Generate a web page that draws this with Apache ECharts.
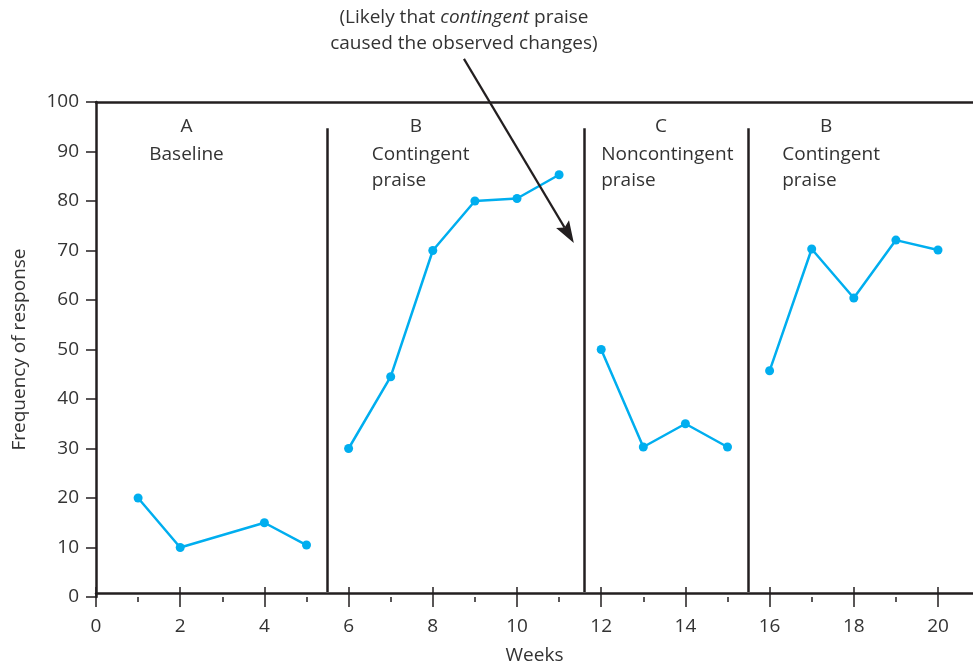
<!DOCTYPE html>
<html>
<head>
<meta charset="utf-8">
<script src="https://cdn.jsdelivr.net/npm/echarts@6/dist/echarts.min.js"></script>
<style>
html,body{margin:0;padding:0;background:#fff;}
#chart{width:973px;height:670px;}
</style>
</head>
<body>
<div id="chart"></div>
<script>
// ---- data ----
const weeksA = [1, 2, 4, 5];
const valuesA = [20, 10, 15, 10.5];
const weeksB = [6, 7, 8, 9, 10, 11];
const valuesB = [30, 44.5, 70, 80, 80.5, 85.3];
const weeksC = [12, 13, 14, 15];
const valuesC = [50, 30.3, 35, 30.3];
const weeksD = [16, 17, 18, 19, 20];
const valuesD = [45.7, 70.3, 60.4, 72.1, 70.1];
const phaseBoundaries = [5.5, 11.6, 15.5];
const phaseLetters = ['A', 'B', 'C', 'B'];
const phaseNames = [['Baseline'], ['Contingent', 'praise'], ['Noncontingent', 'praise'], ['Contingent', 'praise']];
const yTicks = [0, 10, 20, 30, 40, 50, 60, 70, 80, 90, 100];
const xTicks = [0, 2, 4, 6, 8, 10, 12, 14, 16, 18, 20];
const annotationLines = ['(Likely that {i|contingent} praise', 'caused the observed changes)'];

// ---- layout / style ----
const FONT = '"Open Sans", "Noto Sans", sans-serif';
const TEXT = '#333333';
const INK = '#231f20';
const BLUE = '#00aeef';
const FS = 19;
const letterX = [2.15, 7.6, 13.42, 17.34];
const nameX = [2.15, 6.55, 12.0, 16.3];
const nameAlign = ['center', 'left', 'left', 'left'];
const arrowFrom = [8.74, 108.7];
const arrowTo = [11.35, 71.5];

function pairs(xs, ys) { return xs.map((x, i) => [x, ys[i]]); }

const chart = echarts.init(document.getElementById('chart'));

function phaseSeries(xs, ys) {
  return {
    type: 'line', xAxisIndex: 0, yAxisIndex: 0,
    data: pairs(xs, ys),
    symbol: 'circle', symbolSize: 9,
    itemStyle: { color: BLUE },
    lineStyle: { color: BLUE, width: 2.5 },
    animation: false, z: 5
  };
}

const boundaryLines = phaseBoundaries.map(b => [{ coord: [b, 1] }, { coord: [b, 94.7] }]);

const option = {
  backgroundColor: '#ffffff',
  animation: false,
  grid: [
    { left: 96, right: 35, top: 102, bottom: 73 },
    { left: 96, right: 0, top: 102, bottom: 73 }
  ],
  xAxis: [
    {
      type: 'value', gridIndex: 0, position: 'bottom', min: 0, max: 20, interval: 2,
      axisLine: { show: false },
      axisTick: { show: true, length: 10, lineStyle: { color: INK, width: 1.5 } },
      minorTick: { show: true, splitNumber: 2, length: 5, lineStyle: { color: INK, width: 1.5 } },
      axisLabel: { show: true, margin: 20, fontSize: FS, color: TEXT, fontFamily: FONT,
        formatter: v => xTicks.includes(v) ? String(v) : '' },
      splitLine: { show: false }, minorSplitLine: { show: false }
    },
    {
      type: 'value', gridIndex: 0, position: 'bottom', min: 0, max: 20, interval: 2,
      axisLine: { show: false },
      axisTick: { show: true, inside: true, length: 10, lineStyle: { color: INK, width: 1.5 } },
      axisLabel: { show: false }, splitLine: { show: false }
    },
    {
      type: 'value', gridIndex: 1, position: 'bottom', min: 0, max: 20.83,
      axisLine: { show: true, lineStyle: { color: INK, width: 2.5 } },
      axisTick: { show: false }, axisLabel: { show: false }, splitLine: { show: false },
      name: 'Weeks', nameLocation: 'middle', nameGap: 53,
      nameTextStyle: { fontSize: FS, color: TEXT, fontFamily: FONT }
    },
    {
      type: 'value', gridIndex: 1, position: 'top', min: 0, max: 20.83,
      axisLine: { show: true, lineStyle: { color: INK, width: 2.5 } },
      axisTick: { show: false }, axisLabel: { show: false }, splitLine: { show: false }
    }
  ],
  yAxis: [
    {
      type: 'value', gridIndex: 0, min: 0, max: 100, interval: 10,
      axisLine: { show: true, lineStyle: { color: INK, width: 2.5 } },
      axisTick: { show: true, length: 10, lineStyle: { color: INK, width: 1.5 } },
      axisLabel: { margin: 17, fontSize: FS, color: TEXT, fontFamily: FONT,
        formatter: v => yTicks.includes(v) ? String(v) : '' },
      splitLine: { show: false },
      name: 'Frequency of response', nameLocation: 'middle', nameGap: 67,
      nameTextStyle: { fontSize: FS, color: TEXT, fontFamily: FONT }
    },
    {
      type: 'value', gridIndex: 1, min: 0, max: 100, show: false
    }
  ],
  series: [
    phaseSeries(weeksA, valuesA),
    phaseSeries(weeksB, valuesB),
    phaseSeries(weeksC, valuesC),
    phaseSeries(weeksD, valuesD),
    {
      type: 'line', xAxisIndex: 0, yAxisIndex: 0, data: [], clip: false, silent: true,
      markLine: {
        silent: true, animation: false, symbol: ['none', 'none'],
        label: { show: false },
        lineStyle: { color: INK, width: 2.5, type: 'solid' },
        emphasis: { disabled: true },
        data: boundaryLines
      }
    }
  ]
};
chart.setOption(option);

// text labels placed at data coordinates
const graphics = [];
phaseLetters.forEach((L, i) => {
  const p = chart.convertToPixel({ gridIndex: 0 }, [letterX[i], 95]);
  graphics.push({
    type: 'text', x: p[0], y: p[1],
    style: { text: L, fill: TEXT, font: FS + 'px ' + FONT, textAlign: 'center', textVerticalAlign: 'middle' }
  });
  const q = chart.convertToPixel({ gridIndex: 0 }, [nameX[i], 89.4]);
  const n = phaseNames[i].length;
  graphics.push({
    type: 'text', x: q[0], y: q[1] + (n - 1) * 13,
    style: { text: phaseNames[i].join('\n'), fill: TEXT, font: FS + 'px ' + FONT,
      textAlign: nameAlign[i], textVerticalAlign: 'middle', lineHeight: 26 }
  });
});

// annotation arrow (from data coordinates above the plot)
const s = chart.convertToPixel({ gridIndex: 0 }, arrowFrom);
const e = chart.convertToPixel({ gridIndex: 0 }, arrowTo);
const dx = e[0] - s[0], dy = e[1] - s[1];
const L = Math.hypot(dx, dy);
const ux = dx / L, uy = dy / L, nx = -uy, ny = ux;
const headLen = 22, headW = 7.5, notch = 18;
const bx = e[0] - ux * headLen, by = e[1] - uy * headLen;
const mx = e[0] - ux * notch, my = e[1] - uy * notch;
graphics.push({
  type: 'line', shape: { x1: s[0], y1: s[1], x2: mx, y2: my },
  style: { stroke: INK, lineWidth: 2.2 }, z: 20
});
graphics.push({
  type: 'polygon',
  shape: { points: [[e[0], e[1]], [bx + nx * headW, by + ny * headW], [mx, my], [bx - nx * headW, by - ny * headW]] },
  style: { fill: INK }, z: 20
});

graphics.push({
  type: 'text', x: s[0], y: 31,
  style: {
    text: annotationLines.join('\n'), fill: TEXT, font: FS + 'px ' + FONT,
    textAlign: 'center', textVerticalAlign: 'middle', lineHeight: 26,
    rich: { i: { fontStyle: 'italic', fontSize: FS, fontFamily: FONT, fill: TEXT, lineHeight: 26 } }
  }
});
chart.setOption({ graphic: graphics });
</script>
</body>
</html>
